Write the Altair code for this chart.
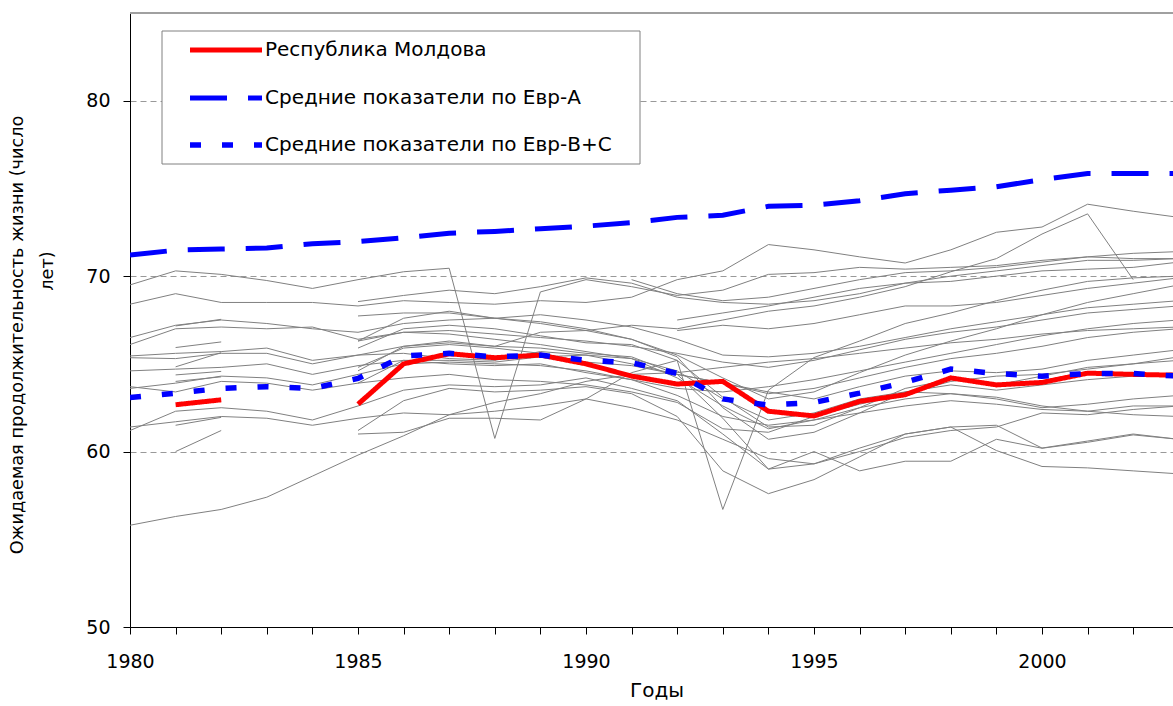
import altair as alt
import pandas as pd

# ---- data -------------------------------------------------------------
years = list(range(1980, 2004))

moldova = [None, 62.67, 62.95, None, None, 62.7, 65.0, 65.58, 65.35, 65.5, 65.0, 64.3,
           63.85, 64.0, 62.3, 62.03, 62.86, 63.24, 64.2, 63.8, 63.94, 64.47, 64.4, 64.35]

eur_a = [71.2, 71.48, 71.55, 71.6, 71.85, 71.97, 72.18, 72.45, 72.55, 72.7, 72.85, 73.05,
         73.35, 73.47, 73.98, 74.05, 74.3, 74.7, 74.9, 75.1, 75.5, 75.85, 75.85, 75.85]

eur_bc = [63.08, 63.33, 63.6, 63.7, 63.6, 64.17, 65.45, 65.6, 65.4, 65.5, 65.2, 65.07,
          64.45, 63.0, 62.65, 62.8, 63.33, 63.95, 64.7, 64.45, 64.3, 64.45, 64.45, 64.3]

# individual countries of the region
countries = [
    [69.5, 70.3, 70.1, 69.75, 69.3, 69.8, 70.25, 70.45, 60.75, 69.1, 69.8, 69.4, 68.9, 69.2, 70.1, 70.2, 70.5, 70.4, 70.5, 70.6, 70.9, 71.1, 71.0, 71.0],
    [68.4, 69.0, 68.5, 68.5, 68.5, 68.3, 68.6, 68.5, 68.4, 68.6, 68.5, 68.8, 69.8, 70.3, 71.8, 71.5, 71.1, 70.75, 71.5, 72.5, 72.8, 74.1, 73.7, 73.35],
    [66.5, 67.2, 67.5, 67.3, 67.0, 66.8, 67.3, 67.5, 67.6, 67.8, 67.5, 67.1, 66.4, 65.5, 65.4, 65.6, 66.0, 66.5, 67.0, 67.4, 67.8, 68.2, 68.4, 68.6],
    [66.1, 67.0, 67.1, 67.0, 67.1, 66.4, 66.8, 66.9, 66.7, 66.5, 66.3, 66.0, 65.6, 65.1, 64.8, 65.2, 65.8, 66.4, 66.8, 67.1, 67.5, 67.9, 68.1, 68.3],
    [65.45, 65.6, 65.7, 65.9, 65.2, 65.5, 66.0, 66.3, 66.0, 66.8, 66.9, 67.2, 67.0, 67.5, 68.0, 68.3, 68.8, 69.4, 70.25, 71.0, 72.4, 73.55, 69.8, None],
    [65.35, 65.3, 65.6, 65.6, 65.0, 65.5, 65.6, 65.3, 65.2, 65.7, 65.5, 65.0, 64.4, 63.9, 63.3, 63.6, 64.2, 64.8, 65.3, 65.6, 66.0, 66.5, 66.8, 67.0],
    [64.6, 64.7, 64.8, 65.0, 64.4, 64.9, 65.2, 65.0, 64.9, 65.0, 64.5, 64.1, 63.6, 63.4, 63.7, 64.1, 64.6, 65.1, 65.6, 66.1, 66.6, 67.0, 67.3, 67.5],
    [63.7, 63.4, 64.0, 63.9, 63.5, 63.9, 64.2, 64.4, 64.1, 64.0, 63.8, 63.4, 62.8, 61.3, 61.1, 62.0, 62.7, 63.3, 64.0, 64.3, 64.4, 64.7, 65.0, 65.4],
    [63.6, 63.9, 64.3, 64.2, 63.8, 64.4, 65.0, 65.1, 65.0, 64.9, 64.6, 64.1, 63.2, 62.0, 61.5, 61.8, 62.2, 62.6, 62.9, 62.7, 62.4, 62.3, 62.1, 62.0],
    [61.4, 61.7, 62.0, 61.9, 61.5, 61.9, 62.2, 62.1, 62.3, 62.6, 63.0, 62.5, 61.8, 60.7, 59.6, 59.3, 60.0, 60.8, 61.2, 61.4, 62.2, 62.1, 62.4, 62.6],
    [61.2, 62.3, 62.5, 62.3, 61.8, 62.6, 63.5, 63.8, 63.7, 63.8, 64.2, 63.6, 62.9, 61.0, 59.0, 60.0, 58.9, 59.45, 59.45, 60.7, 60.19, 60.53, 60.95, 60.7],
    [55.8, 56.3, 56.7, 57.4, 58.6, 59.8, 60.9, 62.1, 62.8, 63.3, 64.0, 64.4, 64.5, 64.8, 65.1, 65.3, 65.6, 65.9, 66.2, 66.4, 66.7, 66.9, 67.0, 67.1],
    [None, 67.16, 67.54, None, None, 66.3, 67.6, 68.0, 67.6, 67.3, 66.9, 66.4, 65.4, 62.5, 60.7, 61.1, 62.2, 63.4, 63.8, 63.5, 63.8, 64.1, 64.3, 64.5],
    [None, 65.93, 66.25, None, None, 65.9, 67.0, 67.2, 67.0, 66.6, 66.2, 66.1, 65.2, 63.1, 61.4, 61.5, 62.5, 63.6, 64.1, 63.8, 64.3, 64.8, 65.0, 65.2],
    [None, 64.83, 65.64, None, None, 64.6, 66.0, 66.2, 66.0, 65.9, 65.6, 65.4, 64.4, 61.9, 59.0, 59.3, 60.2, 61.0, 61.4, 61.5, 60.2, 60.6, 61.0, 60.7],
    [None, 64.37, 64.57, None, None, 64.8, 65.9, 66.1, 65.9, 65.6, 65.1, 64.9, 64.4, 63.9, 63.4, 63.0, 63.7, 64.3, 64.6, 64.5, 64.7, 65.2, 65.5, 65.8],
    [None, 64.0, 64.26, None, None, 63.9, 65.2, 65.2, 65.1, 65.4, 65.5, 65.3, 64.6, 63.0, 61.8, 62.2, 63.0, 63.4, 63.3, 63.1, 62.6, 62.3, 62.6, 62.6],
    [None, 61.5, 61.95, None, None, 61.2, 62.9, 63.6, 63.4, 63.5, 63.7, 63.3, 62.0, 58.9, 57.6, 58.4, 59.7, 61.0, 61.4, 60.06, 59.15, 59.07, 58.9, 58.73],
    [None, 60.0, 61.2, None, None, 61.0, 61.1, 61.9, 61.9, 61.8, 63.0, 64.5, 65.2, 56.7, 63.5, 65.36, 66.3, 67.3, 67.9, 68.6, 69.2, 69.7, 69.9, 70.0],
    [None, None, None, None, None, 68.55, 68.9, 69.2, 69.0, 69.4, 69.9, 69.6, 68.8, 68.5, 68.4, 68.6, 69.0, 69.6, 70.0, 70.3, 70.6, 70.9, 70.9, 71.0],
    [None, None, None, None, None, 67.73, 67.9, 67.9, 67.6, 67.4, 67.0, 66.4, 65.5, 64.2, 63.0, 63.4, 64.5, 65.5, 66.3, 67.0, 67.8, 68.5, 69.0, 69.5],
    [None, None, None, None, None, 66.3, 66.8, 66.7, 66.4, 66.1, 65.7, 65.3, 64.2, 62.6, 61.3, 61.8, 62.5, 63.0, 63.3, 63.0, 62.5, 62.7, 63.0, 63.2],
    [None, None, None, None, None, None, None, None, None, None, None, 69.8, 69.0, 68.6, 68.8, 69.3, 69.8, 70.2, 70.3, 70.5, 70.8, 71.1, 71.3, 71.4],
    [None, None, None, None, None, None, None, None, None, None, None, None, 67.5, 67.9, 68.3, 68.8, 69.3, 69.6, 69.7, 70.0, 70.3, 70.4, 70.5, 70.8],
    [None, None, None, None, None, None, None, None, None, None, None, None, 66.9, 67.2, 67.0, 67.3, 67.8, 68.3, 68.3, 68.5, 68.9, 69.3, 69.6, 69.9],
]

series_names = ["Республика Молдова",
                "Средние показатели по Евр-A",
                "Средние показатели по Евр-B+C"]

x_title = "Годы"
y_title_lines = ["Ожидаемая продолжительность жизни (число", "лет)"]
y_ticks = [50, 60, 70, 80]

# ---- tidy tables --------------------------------------------------------
gray_rows = []
for i, vals in enumerate(countries):
    for yr, v in zip(years, vals):
        gray_rows.append({"series": f"c{i}", "year": yr, "value": v})
gray_df = pd.DataFrame(gray_rows)

main_df = pd.DataFrame({
    "year": years * 3,
    "value": moldova + eur_a + eur_bc,
    "series": [series_names[0]] * len(years) + [series_names[1]] * len(years)
              + [series_names[2]] * len(years),
})

# ---- geometry -----------------------------------------------------------
W, H = 1043, 614
FONT = "DejaVu Sans"

x_scale = alt.Scale(domain=[1980, 1980 + W / 45.6], nice=False, zero=False)
y_scale = alt.Scale(domain=[50, 85], nice=False, zero=False)

x_enc = alt.X("year:Q", scale=x_scale, axis=alt.Axis(
    values=years, labelExpr="datum.value % 5 == 0 ? datum.value : ''",
    tickSize=7, tickColor="black", domainColor="black", labelFontSize=19,
    labelFont=FONT, labelColor="black", labelPadding=18, grid=False, title=None,
    labelFlush=False))
y_enc = alt.Y("value:Q", scale=y_scale, axis=alt.Axis(
    values=y_ticks, tickSize=7, tickColor="black", domainColor="black",
    labelFontSize=19, labelFont=FONT, labelColor="black", labelPadding=13,
    grid=True, gridColor="#999999", gridDash=[6, 4], gridWidth=1, title=None))

gray = alt.Chart(gray_df).mark_line(color="#808080", strokeWidth=1, clip=True).encode(
    x=x_enc, y=y_enc, detail="series:N")

def main_line(name, color, width, dash):
    return alt.Chart(main_df).transform_filter(
        alt.datum.series == name
    ).mark_line(color=color, strokeWidth=width, strokeDash=dash, clip=True,
                strokeCap="butt").encode(x="year:Q", y="value:Q")

red = main_line(series_names[0], "#ff0000", 5, [1, 0])
blue_a = main_line(series_names[1], "#0000ff", 5, [37, 21])
blue_bc = main_line(series_names[2], "#0000ff", 5.5, [11, 21])

# top border of the plot frame
frame_top = alt.Chart().mark_rule(color="#a0a0a0", strokeWidth=2).encode(
    x=alt.value(0), x2=alt.value(W), y=alt.value(0))

# legend box with entries
legend_box = alt.Chart().mark_rect(fill="white", stroke="#808080", strokeWidth=1).encode(
    x=alt.value(32), x2=alt.value(510), y=alt.value(18), y2=alt.value(151))
row_y = [37, 85, 132]
styles = [("#ff0000", 5, [1, 0]), ("#0000ff", 5, [37, 21]), ("#0000ff", 5.5, [11, 21])]
legend_layers = [legend_box]
for (col, sw, dash), ry, name in zip(styles, row_y, series_names):
    legend_layers.append(alt.Chart().mark_rule(color=col, strokeWidth=sw, strokeDash=dash).encode(
        x=alt.value(60), x2=alt.value(132), y=alt.value(ry)))
    legend_layers.append(alt.Chart().mark_text(
        text=name, align="left", baseline="middle", font=FONT, fontSize=20, color="black"
    ).encode(x=alt.value(135), y=alt.value(ry)))

# axis titles
x_title_mark = alt.Chart().mark_text(
    text=x_title, align="center", baseline="middle", font=FONT, fontSize=20, color="black"
).encode(x=alt.value(527), y=alt.value(678))
y_title_1 = alt.Chart().mark_text(
    text=y_title_lines[0], align="center", baseline="middle", angle=270, font=FONT,
    fontSize=17.7, color="black").encode(x=alt.value(-112), y=alt.value(322))
y_title_2 = alt.Chart().mark_text(
    text=y_title_lines[1], align="center", baseline="middle", angle=270, font=FONT,
    fontSize=17.7, color="black").encode(x=alt.value(-82), y=alt.value(258))

chart = alt.layer(
    gray, red, blue_a, blue_bc, frame_top, *legend_layers,
    x_title_mark, y_title_1, y_title_2
).properties(
    width=W, height=H,
    autosize=alt.AutoSizeParams(type="none"),
    padding={"left": 130, "top": 13, "right": 0, "bottom": 77},
).configure_view(stroke=None)

chart.save("out.html", embed_options={"renderer": "svg", "actions": False})
